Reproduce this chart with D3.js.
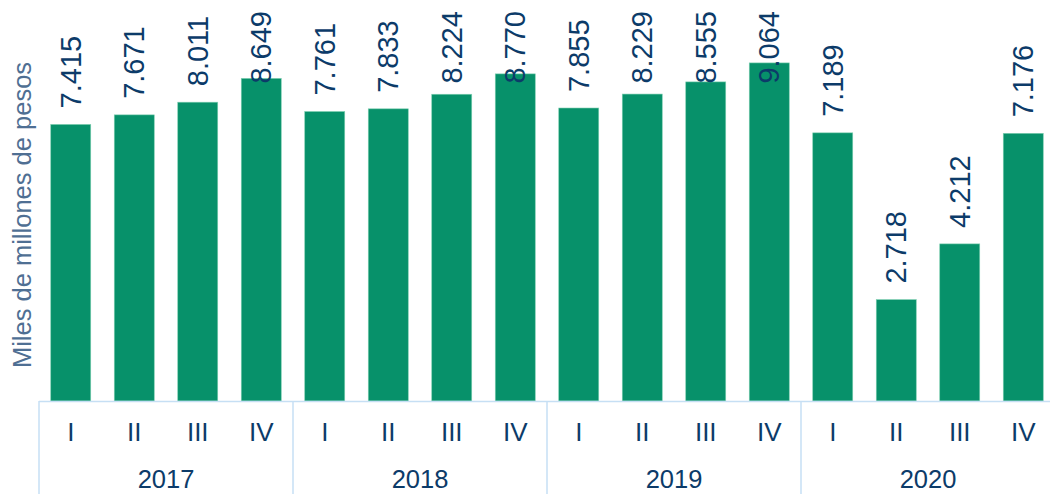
<!DOCTYPE html>
<html>
<head>
<meta charset="utf-8">
<script src="https://cdn.jsdelivr.net/npm/d3@7"></script>
<style>
  html, body { margin: 0; padding: 0; background: #fff; }
  svg { display: block; font-family: "Liberation Sans", Arial, sans-serif; }
</style>
</head>
<body>
<svg id="chart" width="1050" height="494"></svg>
<script>
const years = ["2017", "2018", "2019", "2020"];
const quarters = ["I", "II", "III", "IV"];
const values = [7415, 7671, 8011, 8649, 7761, 7833, 8224, 8770, 7855, 8229, 8555, 9064, 7189, 2718, 4212, 7176];
const yTitle = "Miles de millones de pesos";

const data = [];
years.forEach((y, yi) => quarters.forEach((q, qi) => {
  data.push({ key: y + "-" + q, year: y, quarter: q, value: values[yi * 4 + qi] });
}));

const svg = d3.select("#chart");
const W = 1050, H = 494;
const left = 39, right = 1055, baseline = 401;

const x = d3.scaleBand().domain(data.map(d => d.key)).range([left, right])
  .paddingInner(0.37).paddingOuter(0.185);
const y = d3.scaleLinear().domain([0, 10000]).range([baseline, 28]);

const fmt = v => d3.format(",")(v).replace(/,/g, ".");

const navy = "#0c3b69";
const axisCol = "#c6dff4";

// bars
svg.append("g").selectAll("rect").data(data).join("rect")
  .attr("x", d => x(d.key))
  .attr("y", d => y(d.value))
  .attr("width", x.bandwidth())
  .attr("height", d => baseline - y(d.value))
  .attr("fill", "#07916a")
  .attr("stroke", "#7fcfb1")
  .attr("stroke-width", 0.6);

// value labels (rotated)
const lbl = svg.append("g").selectAll("text").data(data).join("text")
  .attr("text-anchor", "start")
  .attr("font-size", 29)
  .attr("fill", navy)
  .text(d => fmt(d.value));
lbl.each(function(d) {
  const len = this.getComputedTextLength();
  let start = y(d.value) - 16;
  if (start - len < 11) start = 11 + len;
  const cx = x(d.key) + x.bandwidth() / 2 + 10;
  d3.select(this).attr("transform", `translate(${cx},${start}) rotate(-90)`);
});

// axis baseline
const xAxisG = svg.append("g");
xAxisG.append("line")
  .attr("x1", left).attr("x2", right)
  .attr("y1", baseline + 0.5).attr("y2", baseline + 0.5)
  .attr("stroke", axisCol).attr("stroke-width", 1.5);

// group separators
const groupW = (right - left) / years.length;
const sepX = d3.range(years.length + 1).map(i => left + i * groupW);
xAxisG.selectAll("line.sep").data(sepX).join("line")
  .attr("class", "sep")
  .attr("x1", d => d).attr("x2", d => d)
  .attr("y1", baseline).attr("y2", H)
  .attr("stroke", axisCol).attr("stroke-width", 1.5);

// quarter labels
xAxisG.selectAll("text.q").data(data).join("text")
  .attr("class", "q")
  .attr("x", d => x(d.key) + x.bandwidth() / 2)
  .attr("y", 432)
  .attr("dy", "0.35em")
  .attr("text-anchor", "middle")
  .attr("font-size", 26)
  .attr("fill", navy)
  .text(d => d.quarter);

// year labels
xAxisG.selectAll("text.yr").data(years).join("text")
  .attr("class", "yr")
  .attr("x", (d, i) => left + i * groupW + groupW / 2)
  .attr("y", 479.5)
  .attr("dy", "0.35em")
  .attr("text-anchor", "middle")
  .attr("font-size", 25.5)
  .attr("fill", navy)
  .text(d => d);

// y title
svg.append("text")
  .attr("transform", "translate(22,215) rotate(-90)")
  .attr("text-anchor", "middle")
  .attr("dy", "0.35em")
  .attr("font-size", 25.5)
  .attr("fill", "#4f6f93")
  .text(yTitle);
</script>
</body>
</html>
